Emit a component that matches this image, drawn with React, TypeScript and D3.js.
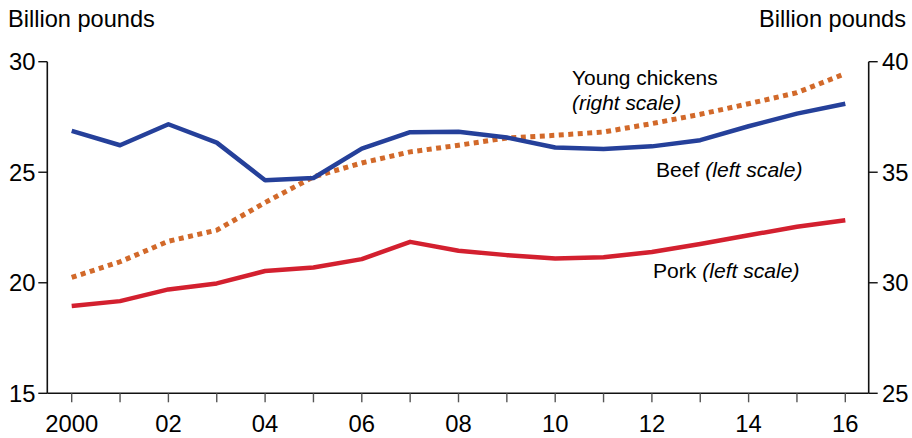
import * as d3 from 'd3';
import React from 'react';

const years = d3.range(2000, 2017);
const beef = [26.87, 26.22, 27.17, 26.34, 24.64, 24.74, 26.07, 26.81, 26.83, 26.57, 26.12, 26.05, 26.17, 26.45, 27.08, 27.65, 28.1];
const pork = [18.95, 19.17, 19.7, 19.97, 20.53, 20.69, 21.07, 21.85, 21.45, 21.25, 21.1, 21.15, 21.39, 21.75, 22.15, 22.53, 22.83];
const chickens = [30.24, 30.95, 31.88, 32.38, 33.63, 34.79, 35.42, 35.92, 36.22, 36.55, 36.67, 36.82, 37.2, 37.62, 38.1, 38.6, 39.46];
const leftTicks = [15, 20, 25, 30];
const rightTicks = [25, 30, 35, 40];
const xLabels = ['2000', '02', '04', '06', '08', '10', '12', '14', '16'];

const W = 912;
const H = 438;
const font = '"Liberation Sans", Arial, Helvetica, sans-serif';

const App: React.FC = () => {
  const axL = 47.3;
  const axR = 868.7;
  const base = 393.3;

  const x = d3.scaleLinear().domain([2000, 2016]).range([71.7, 845.3]);
  const yL = d3.scaleLinear().domain([15, 30]).range([base, 61.7]);
  const yR = d3.scaleLinear().domain([25, 40]).range([base, 61.7]);

  const lineL = d3.line<number>().x((_d, i) => x(years[i])).y(d => yL(d));
  const lineR = d3.line<number>().x((_d, i) => x(years[i])).y(d => yR(d));

  return (
    <svg width={W} height={H} style={{ position: 'absolute', left: 0, top: 0 }} fontFamily={font}>
      <text x={8} y={27} fontSize={23.6}>Billion pounds</text>
      <text x={906} y={27} fontSize={23.6} textAnchor="end">Billion pounds</text>

      {/* axes */}
      <line x1={axL} x2={axL} y1={61.7} y2={base} stroke="#111" strokeWidth={1.6} />
      <line x1={axR} x2={axR} y1={61.7} y2={base} stroke="#111" strokeWidth={1.6} />
      <line x1={axL} x2={axR} y1={base} y2={base} stroke="#111" strokeWidth={1.6} />

      {leftTicks.map(t => (
        <g key={'l' + t}>
          <line x1={axL - 9} x2={axL} y1={yL(t)} y2={yL(t)} stroke="#111" strokeWidth={1.4} />
          <text x={35.5} y={yL(t) + 8.5} fontSize={23.8} textAnchor="end">{t}</text>
        </g>
      ))}
      {rightTicks.map(t => (
        <g key={'r' + t}>
          <line x1={axR} x2={axR + 9} y1={yR(t)} y2={yR(t)} stroke="#111" strokeWidth={1.4} />
          <text x={882} y={yR(t) + 8.5} fontSize={23.8}>{t}</text>
        </g>
      ))}
      {years.map(yr => (
        <line key={'x' + yr} x1={x(yr)} x2={x(yr)} y1={base} y2={base + 9} stroke="#555" strokeWidth={1.4} />
      ))}
      {xLabels.map((lab, i) => (
        <text key={lab} x={x(2000 + i * 2)} y={431.5} fontSize={23.8} textAnchor="middle">{lab}</text>
      ))}

      {/* series */}
      <path d={lineR(chickens) ?? ''} fill="none" stroke="#d2692a" strokeWidth={5} strokeDasharray="5,4.5" />
      <path d={lineL(pork) ?? ''} fill="none" stroke="#d3202f" strokeWidth={4.5} strokeLinejoin="round" />
      <path d={lineL(beef) ?? ''} fill="none" stroke="#25409a" strokeWidth={4.5} strokeLinejoin="round" />

      {/* labels */}
      <text x={572} y={85} fontSize={20.9}>Young chickens</text>
      <text x={572} y={110} fontSize={20.9} fontStyle="italic">(right scale)</text>
      <text x={656} y={177} fontSize={21.1}>Beef <tspan fontStyle="italic">(left scale)</tspan></text>
      <text x={653} y={278} fontSize={21.1}>Pork <tspan fontStyle="italic">(left scale)</tspan></text>
    </svg>
  );
};

export default App;
